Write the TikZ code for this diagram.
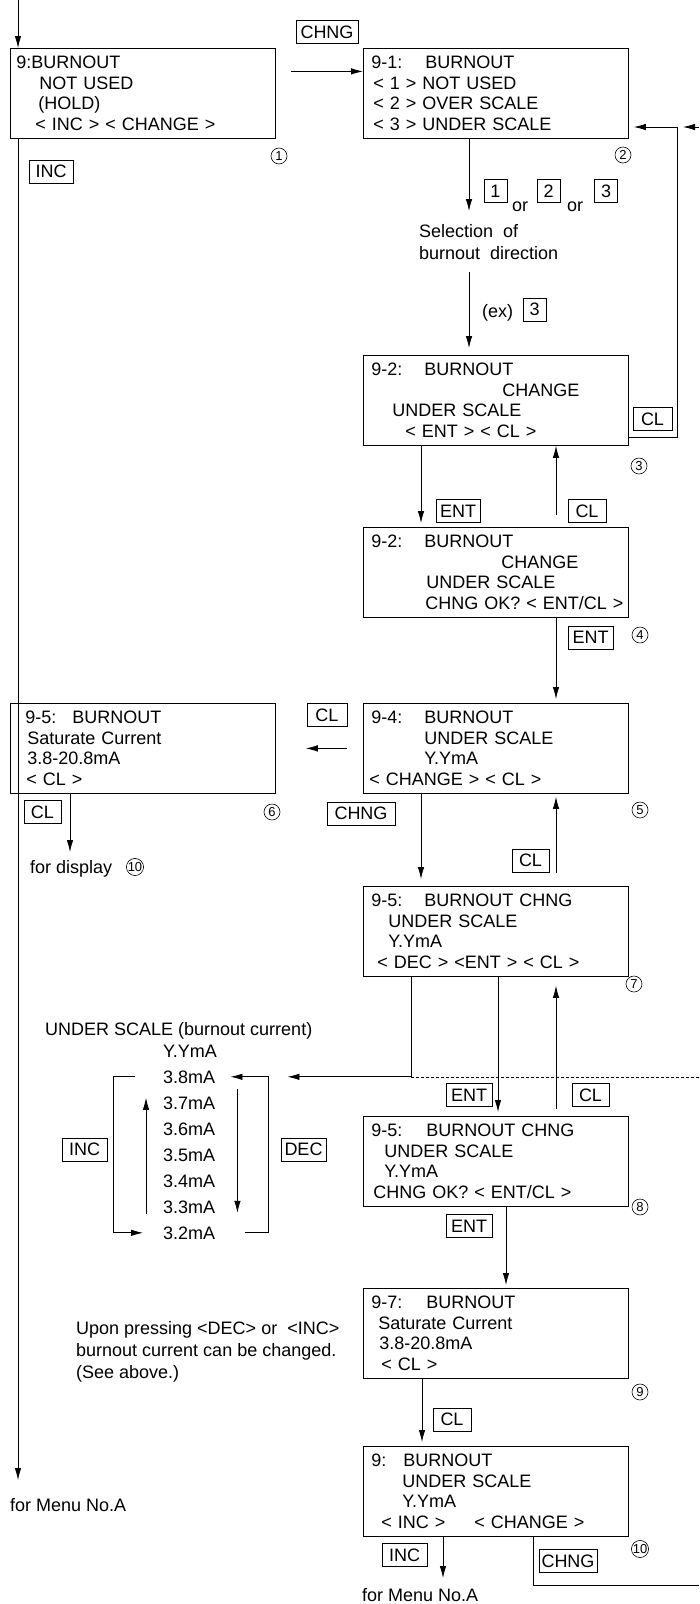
\documentclass[tikz,border=0pt]{standalone}
\usepackage{fontspec}
\setmainfont{Liberation Sans}
\usetikzlibrary{arrows.meta}

\begin{document}
\begin{tikzpicture}[x=1pt, y=-1pt,
    disp/.style={draw, line width=0.8pt, anchor=north west, text width=253pt, minimum height=90pt, inner xsep=6pt, inner ysep=0pt, align=left, font=\fontsize{18}{20.7}\selectfont},
    key/.style={draw, line width=0.7pt, minimum height=23pt, inner xsep=2pt, inner ysep=0pt, font=\fontsize{18}{20}\selectfont},
    num/.style={circle, draw, line width=0.6pt, inner sep=0pt, minimum size=16pt, font=\fontsize{13}{13}\selectfont},
    txt/.style={inner sep=0pt, font=\fontsize{18}{22}\selectfont},
    arr/.style={line width=0.8pt, -{Latex[length=12pt,width=6.5pt]}, shorten >=4pt},
    wire/.style={line width=0.8pt}]
    \useasboundingbox (0,0) rectangle (699,1604);

    % display screens
    \node[disp] (s1) at (10,48) {9:BURNOUT\\\hspace*{23pt}NOT USED\\\hspace*{22pt}(HOLD)\\\hspace*{19pt}< INC > < CHANGE >};
    \node[disp] (s2) at (363,48) {\hspace*{2pt}\makebox[54pt][l]{9-1:}BURNOUT\\\hspace*{4pt}< 1 > NOT USED\\\hspace*{4pt}< 2 > OVER SCALE\\\hspace*{4pt}< 3 > UNDER SCALE};
    \node[disp] (s3) at (363,355) {\hspace*{2pt}\makebox[53pt][l]{9-2:}BURNOUT\\\hspace*{133pt}CHANGE\\\hspace*{23pt}UNDER SCALE\\\hspace*{36pt}< ENT > < CL >};
    \node[disp] (s4) at (363,527) {\hspace*{2pt}\makebox[53pt][l]{9-2:}BURNOUT\\\hspace*{132pt}CHANGE\\\hspace*{57pt}UNDER SCALE\\\hspace*{56pt}\mbox{CHNG OK? < ENT/CL >}};
    \node[disp] (s5) at (363,703) {\hspace*{2pt}\makebox[53pt][l]{9-4:}BURNOUT\\\hspace*{55pt}UNDER SCALE\\\hspace*{55pt}Y.YmA\\< CHANGE > < CL >};
    \node[disp] (s6) at (10,703) {\hspace*{9pt}\makebox[47pt][l]{9-5:}BURNOUT\\\hspace*{11pt}Saturate Current\\\hspace*{11pt}3.8-20.8mA\\\hspace*{10pt}< CL >};
    \node[disp] (s7) at (363,886) {\hspace*{2pt}\makebox[53pt][l]{9-5:}BURNOUT CHNG\\\hspace*{19pt}UNDER SCALE\\\hspace*{19pt}Y.YmA\\\hspace*{8pt}\mbox{< DEC > <ENT > < CL >}};
    \node[disp] (s8) at (363,1116) {\hspace*{2pt}\makebox[55pt][l]{9-5:}BURNOUT CHNG\\\hspace*{15pt}UNDER SCALE\\\hspace*{15pt}Y.YmA\\\hspace*{4pt}\mbox{CHNG OK? < ENT/CL >}};
    \node[disp] (s9) at (363,1288) {\hspace*{2pt}\makebox[55pt][l]{9-7:}BURNOUT\\\hspace*{9pt}Saturate Current\\\hspace*{10pt}3.8-20.8mA\\\hspace*{12pt}< CL >};
    \node[disp] (s10) at (363,1446) {\hspace*{2pt}\makebox[32pt][l]{9:}BURNOUT\\\hspace*{33pt}UNDER SCALE\\\hspace*{33pt}Y.YmA\\\hspace*{12pt}\makebox[93pt][l]{< INC >}< CHANGE >};

    % keys
    \foreach \nm/\x/\y/\w/\txt in {kchng1/327/32/62/CHNG, kinc1/51/171.5/44/INC, ka/495.5/191/23/1, kb/548.5/191/23/2, kc/606/191/23/3, kex/534.5/309.5/23/3, kcl1/652.5/419/39/CL, kent1/458/511/44/ENT, kcl2/587/511/38/CL, kent2/590.5/637.5/45/ENT, kcl3/327/715/40/CL, kcl4/42.5/812/37/CL, kchng2/361/813.5/68/CHNG, kcl5/530.5/860.5/37/CL, kent3/469/1095/46/ENT, kcl6/590.5/1095/37/CL, kinc2/84.5/1149.5/45/INC, kdec/303.5/1149.5/45/DEC, kent4/469/1226/46/ENT, kcl7/452/1419.5/38/CL, kinc3/404.5/1555/45/INC, kchng3/568/1561/58/CHNG}
      \node[key, minimum width=\w pt] (\nm) at (\x,\y) {\txt};

    % step numbers
    \foreach \nm/\x/\y/\txt in {n1/279/156/1, n2/623/155/2, n3/639/466/3, n4/640/635/4, n5/640/810/5, n6/272/812/6, n7/634/984/7, n8/640/1207/8, n9/640/1392/9, n10/640/1549/10, nd/135/867/10}
      \node[num] (\nm) at (\x,\y) {\txt};

    % texts
    \node[txt, anchor=base] (or1) at (520,211) {or};
    \node[txt, anchor=base] (or2) at (575,211) {or};
    \node[txt, anchor=north west, align=left] (sel) at (419,224) {Selection~~of\\burnout~~direction};
    \node[txt, anchor=base west] (ex) at (482,317) {(ex)};
    \node[txt, anchor=base west] (disp) at (30,873) {for display};
    \node[txt, anchor=base west] (under) at (45,1035) {UNDER SCALE (burnout current)};
    \node[txt, anchor=base west] (yy) at (163,1057) {Y.YmA};
    \foreach \val [count=\i] in {3.8,3.7,3.6,3.5,3.4,3.3,3.2}
      \node[txt, anchor=base west] (v\i) at (163,1057+26*\i) {\val mA};
    \node[txt, anchor=north west, align=left] (upon) at (76,1321) {Upon pressing <DEC> or~~<INC>\\burnout current can be changed.\\(See above.)};
    \node[txt, anchor=base west] (menua) at (10,1511) {for Menu No.A};
    \node[txt, anchor=base west] (menub) at (362,1601) {for Menu No.A};

    % free ends
    \coordinate (top) at (18,0);
    \coordinate (ma) at (18,1480);
    \coordinate (q1) at (469,211);
    \coordinate (q2) at (469,272);
    \coordinate (lp) at (677,127);
    \coordinate (lq) at (677,437);
    \coordinate (re) at (699,127);
    \coordinate (u1) at (556,515);
    \coordinate (u2) at (556,873);
    \coordinate (u3) at (556,1109);
    \coordinate (fd) at (70,852);
    \coordinate (dc) at (411,1077);
    \coordinate (de) at (699,1077);
    \coordinate (mb) at (443,1578);
    \coordinate (ce) at (699,1585);

    % flow
    \draw[arr, shorten >=0pt] (top) -- (top |- s1.north);
    \draw[arr, shorten >=0pt] (top |- s1.south) -- (ma);
    \draw[arr, shorten >=0pt, shorten <=15pt] ([yshift=22pt]s1.east) -- ([yshift=22pt]s2.west);
    \draw[arr, shorten >=0pt] ([xshift=106pt]s2.south west) -- (q1);
    \draw[arr, shorten >=7pt] (q2) -- ([xshift=106pt]s3.north west);
    \draw[arr, shorten >=5pt] (lq -| s3.east) -- (lq) -- (lp) -- (lp -| s2.east);
    \draw[arr, shorten >=6pt] (re) -- (lp);
    \draw[arr] ([xshift=58pt]s3.south west) -- ([xshift=58pt]s4.north west);
    \draw[arr, shorten >=0pt] (u1) -- (u1 |- s3.south);
    \draw[arr] ([xshift=193pt]s4.south west) -- ([xshift=193pt]s5.north west);
    \draw[arr, shorten <=16pt, shorten >=30pt] (s5.west) -- (s6.east);
    \draw[arr, shorten >=0pt] ([xshift=60pt]s6.south west) -- (fd);
    \draw[arr, shorten >=7pt] ([xshift=58pt]s5.south west) -- ([xshift=58pt]s7.north west);
    \draw[arr, shorten >=3pt] (u2) -- (u2 |- s5.south);
    \draw[arr, shorten >=0pt] ([xshift=48pt]s7.south west) |- ([xshift=72pt]v1.east);
    \draw[line width=0.6pt, dash pattern=on 3pt off 2pt] (dc) -- (de);
    \draw[arr] ([xshift=135pt]s7.south west) -- ([xshift=135pt]s8.north west);
    \draw[arr, shorten >=9pt] (u3) -- (u3 |- s7.south);
    \draw[arr, shorten >=3pt] ([xshift=143pt]s8.south west) -- ([xshift=143pt]s9.north west);
    \draw[arr] ([xshift=59pt]s9.south west) -- ([xshift=59pt]s10.north west);
    \draw[arr, shorten >=0pt] ([xshift=80pt]s10.south west) -- (mb);
    \draw[wire] ([xshift=170pt]s10.south west) |- (ce);

    % current list
    \draw[arr, shorten >=0pt] ([xshift=-28pt]v1.west) -- ([xshift=-50pt]v1.west) -- ([xshift=-50pt]v7.west) -- ([xshift=-20pt]v7.west);
    \draw[arr, shorten >=0pt] ([xshift=30pt]v7.east) -- ([xshift=53pt]v7.east) -- ([xshift=53pt]v1.east) -- ([xshift=15pt]v1.east);
    \draw[arr, shorten >=0pt] ([xshift=-17pt,yshift=-7pt]v6.west) -- ([xshift=-17pt,yshift=5pt]v2.west);
    \draw[arr, shorten >=0pt] ([xshift=22pt,yshift=14pt]v2.east) -- ([xshift=22pt,yshift=-6pt]v6.east);
\end{tikzpicture}
\end{document}
